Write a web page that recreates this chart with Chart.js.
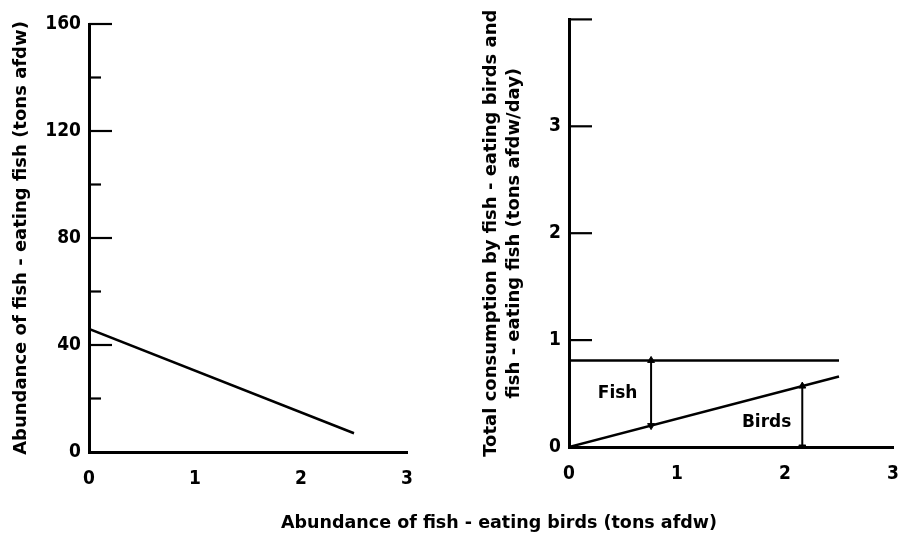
<!DOCTYPE html>
<html><head><meta charset="utf-8">
<script src="https://cdn.jsdelivr.net/npm/chart.js@4"></script>
<style>
html,body{margin:0;padding:0;background:#fff;width:898px;height:535px;overflow:hidden;position:relative;}
#c1{position:absolute;left:0;top:0;}
#c2{position:absolute;left:450px;top:0;}
#xt{position:absolute;left:499px;top:510px;transform:translateX(-50%);white-space:nowrap;font-weight:bold;font-size:17.5px;font-family:'DejaVu Sans',sans-serif;color:#000;line-height:24px;}
</style></head>
<body>
<canvas id="c1" width="450" height="535"></canvas>
<canvas id="c2" width="465" height="535"></canvas>
<div id="xt">Abundance of fish - eating birds (tons afdw)</div>
<script>
// ---- data ----
const birdAbundance = [0, 2.5];          // x (tons afdw)
const fishAbundance = [46, 7];           // left panel y (tons afdw)
const totalConsumption = [0.81, 0.81];   // right panel, upper line
const birdConsumption = [0, 0.66];       // right panel, sloped line
const fishArrowX = [0.76, 0.76];
const fishArrowY = [0.81, 0.20];
const birdsArrowX = [2.16, 2.16];
const birdsArrowY = [0.57, 0];
const areaLabels = ['Fish', 'Birds'];
const areaLabelX = [0.45, 1.83];
const areaLabelY = [0.50, 0.23];
const leftYTitle = 'Abundance of fish - eating fish (tons afdw)';
const rightYTitle = ['Total consumption by fish - eating birds and', 'fish - eating fish (tons afdw/day)'];

const pts = (xs, ys) => xs.map((x, i) => ({x, y: ys[i]}));
const tickFont = {family: "'Liberation Sans Narrow','DejaVu Sans Condensed','DejaVu Sans',sans-serif", size: 19, weight: 'bold'};
const titleFont = {family: "'DejaVu Sans',sans-serif", size: 18, weight: 'bold', lineHeight: 1.28};

const inwardTicks = {
  id: 'inwardTicks',
  afterDatasetsDraw(chart, args, opts) {
    const {ctx, chartArea} = chart; const ys = chart.scales.y;
    ctx.save(); ctx.strokeStyle = '#000'; ctx.lineWidth = 2.2;
    ys.ticks.forEach(t => {
      if (t.value === ys.min) return;
      const py = ys.getPixelForValue(t.value);
      const len = (Math.abs(t.value % opts.major) < 1e-9) ? 23 : 12;
      ctx.beginPath(); ctx.moveTo(chartArea.left, py); ctx.lineTo(chartArea.left + len, py); ctx.stroke();
    });
    ctx.restore();
  }
};
const areaText = {
  id: 'areaText',
  afterDatasetsDraw(chart) {
    if (!chart.options.plugins.areaText || !chart.options.plugins.areaText.on) return;
    const {ctx} = chart; const xs = chart.scales.x, ys = chart.scales.y;
    ctx.save(); ctx.fillStyle = '#000';
    ctx.font = "bold 17px 'DejaVu Sans',sans-serif";
    ctx.textAlign = 'center'; ctx.textBaseline = 'middle';
    areaLabels.forEach((s, i) => ctx.fillText(s, xs.getPixelForValue(areaLabelX[i]), ys.getPixelForValue(areaLabelY[i])));
    ctx.restore();
  }
};

function lineDs(data, w) {
  return {data, borderColor: '#000', backgroundColor: '#000', borderWidth: w, pointRadius: 0, showLine: true, tension: 0};
}
function arrowDs(data) {
  return {data, borderColor: '#000', backgroundColor: '#000', borderWidth: 2, showLine: true,
    pointStyle: 'triangle', pointRadius: 4, pointRotation: [0, 180], pointBorderWidth: 1};
}
function xScale(h) {
  return {type: 'linear', min: 0, max: 3,
    ticks: {stepSize: 1, font: tickFont, color: '#000', padding: 16},
    grid: {display: false, drawTicks: false},
    border: {display: true, color: '#000', width: 3},
    afterFit(s) { s.height = h; }};
}

new Chart(document.getElementById('c1'), {
  type: 'scatter',
  data: {datasets: [lineDs(pts(birdAbundance, fishAbundance), 2.5)]},
  options: {
    responsive: false, animation: false, devicePixelRatio: 1,
    layout: {autoPadding: false, padding: {top: 24, right: 43, left: 0, bottom: 0}},
    plugins: {legend: {display: false}, tooltip: {enabled: false}, inwardTicks: {major: 40}},
    scales: {
      x: xScale(535 - 452),
      y: {type: 'linear', min: 0, max: 160,
        ticks: {stepSize: 20, font: tickFont, color: '#000', padding: 8, callback: v => (v % 40 === 0 ? v : '')},
        grid: {display: false, drawTicks: false},
        border: {display: true, color: '#000', width: 3},
        title: {display: true, text: leftYTitle, font: titleFont, color: '#000', padding: {top: 10, bottom: 0}},
        afterFit(s) { s.width = 89; }}
    }
  },
  plugins: [inwardTicks]
});

new Chart(document.getElementById('c2'), {
  type: 'scatter',
  data: {datasets: [
    lineDs(pts(birdAbundance, totalConsumption), 2.5),
    lineDs(pts(birdAbundance, birdConsumption), 2.5),
    arrowDs(pts(fishArrowX, fishArrowY)),
    arrowDs(pts(birdsArrowX, birdsArrowY))
  ]},
  options: {
    responsive: false, animation: false, devicePixelRatio: 1,
    layout: {autoPadding: false, padding: {top: 17, right: 22, left: 0, bottom: 0}},
    plugins: {legend: {display: false}, tooltip: {enabled: false}, inwardTicks: {major: 1}, areaText: {on: true}},
    scales: {
      x: xScale(535 - 447),
      y: {type: 'linear', min: 0, max: 4,
        ticks: {stepSize: 1, font: tickFont, color: '#000', padding: 8, callback: v => (v === 4 ? '' : v)},
        grid: {display: false, drawTicks: false},
        border: {display: true, color: '#000', width: 3},
        title: {display: true, text: rightYTitle, font: titleFont, color: '#000', padding: {top: 30, bottom: 0}},
        afterFit(s) { s.width = 119; }}
    }
  },
  plugins: [inwardTicks, areaText]
});
</script>
</body></html>
